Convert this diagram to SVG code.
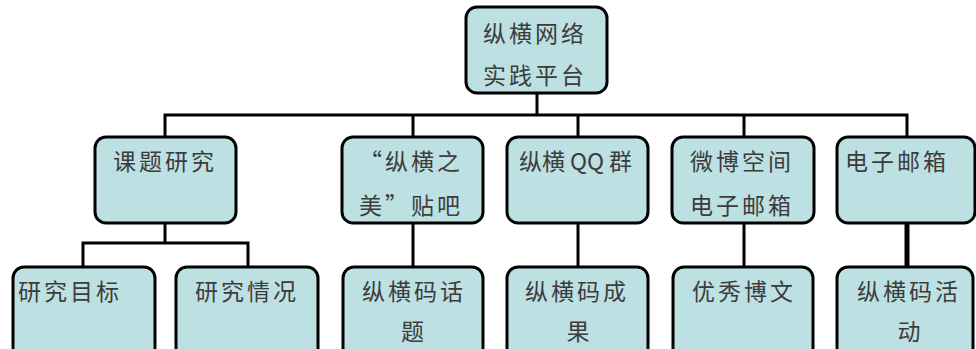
<svg xmlns="http://www.w3.org/2000/svg" width="976" height="349" viewBox="0 0 976 349">
<style>
.box{fill:#bde0e3;stroke:#000;stroke-width:3}
.t{font-family:"Noto Sans CJK SC","Noto Sans CJK TC",sans-serif;font-size:23px;fill:#3c3c3c;letter-spacing:3px}
.c{text-anchor:middle;letter-spacing:0}
.ln{fill:none;stroke:#000;stroke-width:3}
</style>
<rect width="976" height="349" fill="#fff"/>
<g id="connectors">
<path class="ln" d="M537 93V115"/>
<path class="ln" d="M165 137V115H907V137"/>
<path class="ln" d="M413 115V137M578 115V137M744 115V137"/>
<path class="ln" d="M165 223V243"/>
<path class="ln" d="M83 267V243H248V267"/>
<path class="ln" d="M413 223V267M578 223V267M744 223V267"/>
<path class="ln" style="stroke-width:5" d="M907 223V267"/>
</g>
<g id="n0"><rect class="box" x="466" y="7" width="141" height="86" rx="11"/><text class="t" x="483" y="42">纵横网络</text><text class="t" x="483" y="84">实践平台</text></g>
<g id="n1"><rect class="box" x="95" y="137" width="141" height="86" rx="11"/><text class="t" x="113" y="170">课题研究</text></g>
<g id="n2"><rect class="box" x="342" y="137" width="141" height="86" rx="11"/><text class="t" x="359" y="170">“纵横之</text><text class="t" x="359" y="214">美”贴吧</text></g>
<g id="n3"><rect class="box" x="507" y="137" width="141" height="86" rx="11"/><text class="t" x="519" y="170" textLength="116" lengthAdjust="spacing">纵横 QQ 群</text></g>
<g id="n4"><rect class="box" x="672" y="137" width="142" height="86" rx="11"/><text class="t" x="690" y="170">微博空间</text><text class="t" x="690" y="214">电子邮箱</text></g>
<g id="n5"><rect class="box" x="837" y="137" width="138" height="86" rx="11"/><text class="t" x="845" y="170">电子邮箱</text></g>
<g id="n6"><rect class="box" x="13" y="267" width="142" height="100" rx="11"/><text class="t" x="18" y="300">研究目标</text></g>
<g id="n7"><rect class="box" x="176" y="267" width="142" height="100" rx="11"/><text class="t" x="195" y="300">研究情况</text></g>
<g id="n8"><rect class="box" x="343" y="267" width="140" height="100" rx="11"/><text class="t" x="362" y="300">纵横码话</text><text class="t c" x="412.5" y="340">题</text></g>
<g id="n9"><rect class="box" x="507" y="267" width="141" height="100" rx="11"/><text class="t" x="525" y="300">纵横码成</text><text class="t c" x="578" y="340">果</text></g>
<g id="n10"><rect class="box" x="673" y="267" width="140" height="100" rx="11"/><text class="t" x="692" y="300">优秀博文</text></g>
<g id="n11"><rect class="box" x="837" y="267" width="136" height="100" rx="11"/><text class="t" x="857" y="300">纵横码活</text><text class="t c" x="909" y="340">动</text></g>
</svg>
